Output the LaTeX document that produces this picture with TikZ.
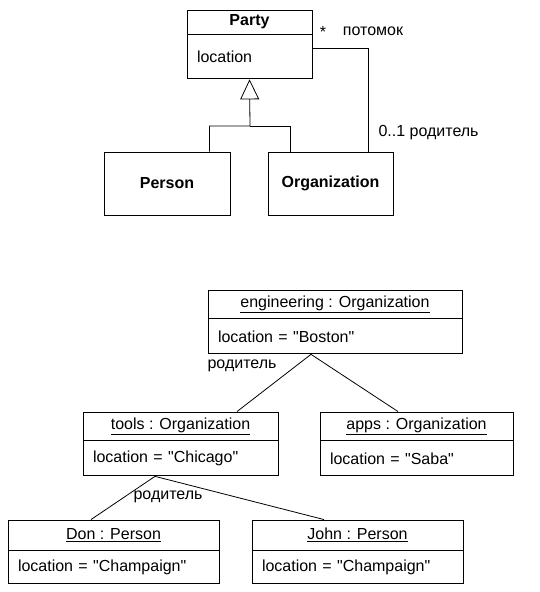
\documentclass[tikz,border=0pt]{standalone}
\usepackage{fontspec}
\setmainfont{Liberation Sans}
\usetikzlibrary{arrows.meta}
\usetikzlibrary{positioning}

\newcommand{\qval}[1]{\textquotedbl#1\textquotedbl}

\tikzset{
  cls/.style={draw, line width=0.9pt, inner sep=0pt},
  attr/.style={draw, line width=0.9pt, inner ysep=0pt, inner xsep=10pt, align=left},
  lnk/.style={line width=0.8pt},
}

\begin{document}
\begin{tikzpicture}[x=1pt, y=-1pt, font=\fontsize{16}{19}\selectfont]
    \useasboundingbox (0,0) rectangle (539,592);
    % class diagram
    \node[cls, minimum width=125pt, minimum height=24pt] (party) at (249.5,22) {\bfseries Party};
    \node[attr, text width=105pt, minimum height=44pt, below=0pt of party] (partyattr) {location};
    \node[cls, minimum width=126pt, minimum height=63pt] (person) at (167,183.5) {\bfseries Person};
    \node[cls, minimum width=125pt, minimum height=63pt] (org) at (330.5,183.5) {\bfseries Organization};
    \coordinate (gen) at (250,126);
    \draw [lnk, -{Triangle[open, length=20pt, width=19pt]}] ([xshift=-21pt]person.north east) |- (gen) -- (partyattr.south);
    \draw [lnk] ([xshift=23pt]org.north west) |- (gen);
    \draw [lnk] ([yshift=9pt]partyattr.east) -| ([xshift=-25pt]org.north east);
    \node (many) at (323,32) {*};
    \node (child) at (373,31) {потомок};
    \node[anchor=west] (parent) at (375,133) {0..1 родитель};
    % object diagram
    \node[cls, minimum width=254pt, minimum height=28pt] (eng) at (335,304) {\underline{engineering : Organization}};
    \node[attr, text width=234pt, minimum height=35pt, below=0pt of eng] (engattr) {location = \qval{Boston}};
    \node[cls, minimum width=195pt, minimum height=28pt] (tools) at (180.5,426) {\underline{tools : Organization}};
    \node[attr, text width=175pt, minimum height=35pt, below=0pt of tools] (toolsattr) {location = \qval{Chicago}};
    \node[cls, minimum width=193pt, minimum height=28pt] (apps) at (416.5,426) {\underline{apps : Organization}};
    \node[attr, text width=173pt, minimum height=35pt, below=0pt of apps] (appsattr) {location = \qval{Saba}};
    \node[cls, minimum width=211pt, minimum height=30pt] (don) at (113.5,535) {\underline{Don : Person}};
    \node[attr, text width=191pt, minimum height=33pt, below=0pt of don] (donattr) {location = \qval{Champaign}};
    \node[cls, minimum width=211pt, minimum height=30pt] (john) at (357.5,535) {\underline{John : Person}};
    \node[attr, text width=191pt, minimum height=33pt, below=0pt of john] (johnattr) {location = \qval{Champaign}};
    \draw [lnk] ([xshift=-24pt]engattr.south) -- ([xshift=56.5pt]tools.north);
    \draw [lnk] ([xshift=-24pt]engattr.south) -- ([xshift=-18.5pt]apps.north);
    \draw [lnk] ([xshift=-25.5pt]toolsattr.south) -- ([xshift=-22.5pt]don.north);
    \draw [lnk] ([xshift=-25.5pt]toolsattr.south) -- ([xshift=-33.5pt]john.north);
    \node (par1) at (242,366) {родитель};
    \node (par2) at (168,497) {родитель};
  \end{tikzpicture}
\end{document}
